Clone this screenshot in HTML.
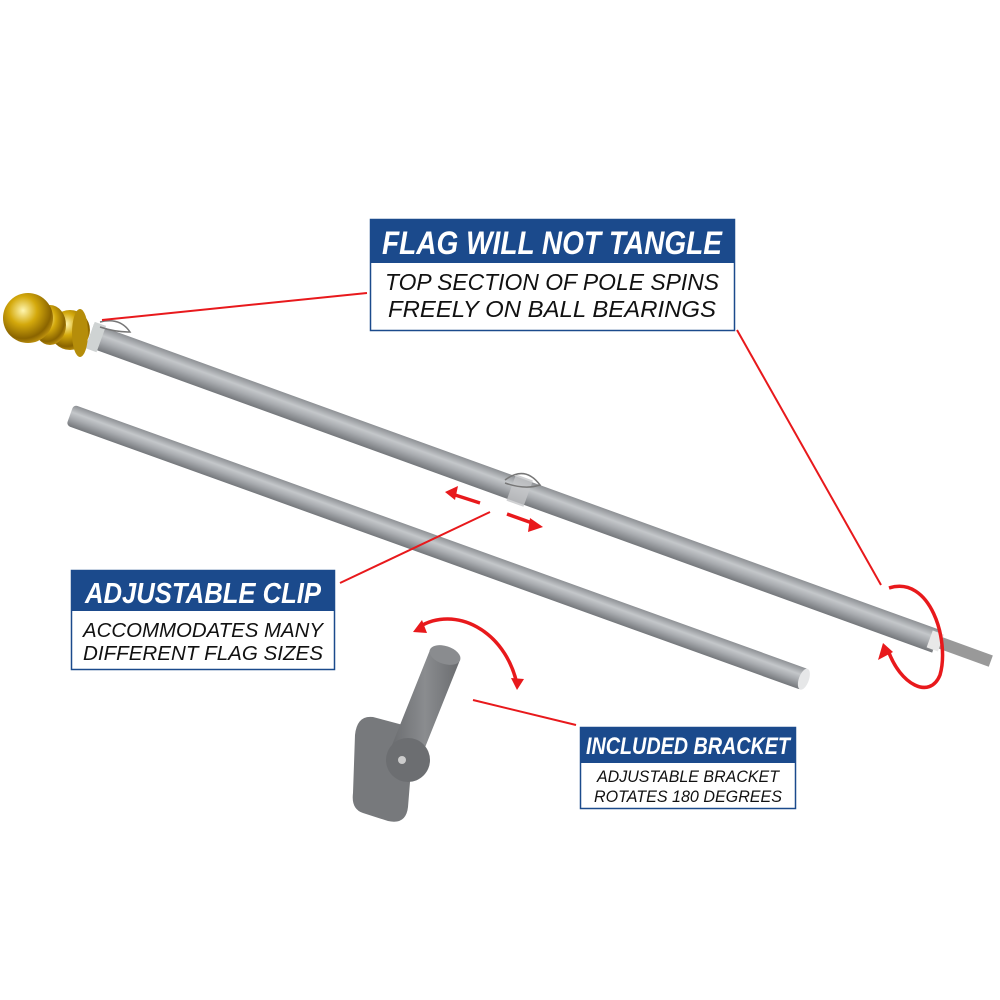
<!DOCTYPE html>
<html><head><style>
html,body{margin:0;padding:0;background:#fff;width:1000px;height:1000px;overflow:hidden}
text{font-family:"Liberation Sans Narrow","Liberation Sans",sans-serif;font-style:italic}
</style></head><body>
<svg width="1000" height="1000" viewBox="0 0 1000 1000" xmlns="http://www.w3.org/2000/svg">
<defs>
<linearGradient id="pg" x1="0" y1="0" x2="0" y2="1">
<stop offset="0" stop-color="#8d9094"/><stop offset="0.35" stop-color="#c4c7ca"/><stop offset="0.6" stop-color="#a9acb0"/><stop offset="1" stop-color="#74777b"/>
</linearGradient>
<linearGradient id="tg" x1="0" y1="0" x2="1" y2="0">
<stop offset="0" stop-color="#6a6c6f"/><stop offset="0.5" stop-color="#8a8c8f"/><stop offset="1" stop-color="#6a6c6f"/>
</linearGradient>
<radialGradient id="gold" cx="0.4" cy="0.35" r="0.7">
<stop offset="0" stop-color="#fff6b0"/><stop offset="0.4" stop-color="#d4a90c"/><stop offset="0.8" stop-color="#8a6400"/><stop offset="1" stop-color="#c89a10"/>
</radialGradient>
</defs>

<!-- lower pole -->
<g transform="translate(70,415) rotate(19.8)">
<rect x="0" y="-11" width="782" height="22" rx="4" fill="url(#pg)"/>
<ellipse cx="780" cy="0" rx="5" ry="11" fill="#e6e7e8"/>
</g>

<!-- top pole -->
<g transform="translate(90,335) rotate(19.9)">
<rect x="0" y="-12" width="900" height="24" fill="url(#pg)"/>
<rect x="898" y="-6" width="60" height="12" fill="#999"/>
<rect x="893" y="-9" width="12" height="18" fill="#e8e8e8"/>
<rect x="0" y="-14" width="12" height="28" fill="#cfd3d3"/>
<rect x="448" y="-14" width="18" height="28" fill="#c4c6c8" opacity="0.8"/>
</g>
<!-- ball top -->
<ellipse cx="70" cy="330" rx="20" ry="20" fill="url(#gold)"/>
<ellipse cx="50" cy="325" rx="16" ry="20" fill="url(#gold)"/>
<circle cx="28" cy="318" r="25" fill="url(#gold)"/>
<ellipse cx="80" cy="333" rx="8" ry="24" fill="#b58d0a"/>
<!-- clips -->
<path d="M100 322 q20 -5 30 10 q-15 0 -30 -5" fill="none" stroke="#777" stroke-width="1.5"/>
<path d="M505 480 q20 -15 35 5 q-15 5 -35 -2" fill="none" stroke="#777" stroke-width="1.5"/>

<!-- bracket -->
<g fill="#77797c">
<path d="M355 735 q2 -20 18 -18 l30 8 q10 3 10 20 l-5 62 q-2 18 -20 14 l-25 -8 q-12 -4 -10 -20 z"/>
<path d="M430 650 l30 10 l-40 100 l-30 -10 z" fill="url(#tg)"/>
<ellipse cx="445" cy="655" rx="16" ry="9" transform="rotate(18 445 655)" fill="#8a8c8f"/>
<circle cx="408" cy="760" r="22" fill="#6c6e71"/>
</g>
<circle cx="402" cy="760" r="4" fill="#ccc"/>

<!-- red lines -->
<g stroke="#e8191c" stroke-width="2" fill="none">
<line x1="102" y1="320" x2="367" y2="293"/>
<line x1="737" y1="330" x2="881" y2="585"/>
<line x1="340" y1="583" x2="490" y2="512"/>
<line x1="473" y1="700" x2="576" y2="725"/>
</g>
<g stroke="#e8191c" stroke-width="3.5" fill="none">
<line x1="480" y1="503" x2="452" y2="494"/>
<line x1="507" y1="514" x2="535" y2="524"/>
<path d="M889 588 C930 575 950 640 940 675 C930 700 900 685 888 650"/>
<path d="M419 627 C455 605 505 630 517 684"/>
</g>
<g fill="#e8191c">
<polygon points="445,492 458,486 455,500"/>
<polygon points="543,527 530,518 528,532"/>
<polygon points="883,643 878,660 893,652"/>
<polygon points="413,632 422,620 427,633"/>
<polygon points="517,690 511,678 524,679"/>
</g>

<!-- box 1 -->
<rect x="370.5" y="219.5" width="364" height="111" fill="#fff" stroke="#1b4a8c" stroke-width="1.5"/>
<rect x="370" y="219" width="365" height="44" fill="#1b4a8c"/>
<text x="552" y="254" font-size="32" font-weight="bold" fill="#fff" text-anchor="middle" textLength="340" lengthAdjust="spacingAndGlyphs">FLAG WILL NOT TANGLE</text>
<text x="552" y="290" font-size="23" fill="#111" text-anchor="middle" textLength="334" lengthAdjust="spacingAndGlyphs">TOP SECTION OF POLE SPINS</text>
<text x="552" y="317" font-size="23" fill="#111" text-anchor="middle" textLength="328" lengthAdjust="spacingAndGlyphs">FREELY ON BALL BEARINGS</text>

<!-- box 2 -->
<rect x="71.5" y="570.5" width="263" height="99" fill="#fff" stroke="#1b4a8c" stroke-width="1.5"/>
<rect x="71" y="570" width="264" height="41" fill="#1b4a8c"/>
<text x="203" y="603" font-size="29" font-weight="bold" fill="#fff" text-anchor="middle" textLength="236" lengthAdjust="spacingAndGlyphs">ADJUSTABLE CLIP</text>
<text x="203" y="637" font-size="20" fill="#111" text-anchor="middle" textLength="240" lengthAdjust="spacingAndGlyphs">ACCOMMODATES MANY</text>
<text x="203" y="660" font-size="20" fill="#111" text-anchor="middle" textLength="240" lengthAdjust="spacingAndGlyphs">DIFFERENT FLAG SIZES</text>

<!-- box 3 -->
<rect x="580.5" y="727.5" width="215" height="81" fill="#fff" stroke="#1b4a8c" stroke-width="1.5"/>
<rect x="580" y="727" width="216" height="36" fill="#1b4a8c"/>
<text x="688" y="754" font-size="24" font-weight="bold" fill="#fff" text-anchor="middle" textLength="204" lengthAdjust="spacingAndGlyphs">INCLUDED BRACKET</text>
<text x="688" y="782" font-size="17" fill="#111" text-anchor="middle" textLength="182" lengthAdjust="spacingAndGlyphs">ADJUSTABLE BRACKET</text>
<text x="688" y="802" font-size="17" fill="#111" text-anchor="middle" textLength="188" lengthAdjust="spacingAndGlyphs">ROTATES 180 DEGREES</text>
</svg>
</body></html>
